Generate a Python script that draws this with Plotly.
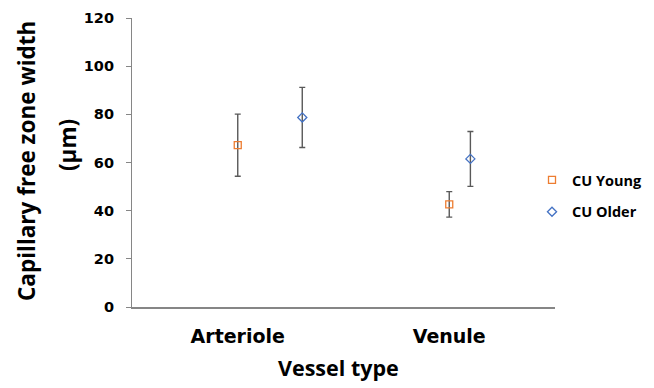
import plotly.graph_objects as go

categories = ["Arteriole", "Venule"]
series_names = ["CU Young", "CU Older"]
young_mean = [67.2, 42.6]
young_err = [12.9, 5.3]
older_mean = [78.7, 61.5]
older_err = [12.5, 11.4]
y_ticks = [0, 20, 40, 60, 80, 100, 120]
x_title = "Vessel type"
y_title_lines = ["Capillary free zone width", "(µm)"]

# horizontal placement of each series within a category (in category units)
young_offset = [0.0, 0.0]
older_offset = [0.305, 0.10]

cat_pos = list(range(len(categories)))
W, H = 654, 388
title_font = "Open Sans, Liberation Sans, sans-serif"
tick_font = "DejaVu Sans, sans-serif"

fig = go.Figure()
fig.add_trace(go.Scatter(
    x=[c + o for c, o in zip(cat_pos, young_offset)], y=young_mean,
    mode="markers", name=series_names[0], legendgroup="a",
    marker=dict(symbol="square-open", size=7, color="#ED7D31", line=dict(width=1.3)),
    error_y=dict(type="data", array=young_err, color="#595959", thickness=1.4, width=3),
))
fig.add_trace(go.Scatter(
    x=[c + o for c, o in zip(cat_pos, older_offset)], y=older_mean,
    mode="markers", name=series_names[1], legendgroup="b",
    marker=dict(symbol="diamond-open", size=7, color="#4472C4", line=dict(width=1.3)),
    error_y=dict(type="data", array=older_err, color="#595959", thickness=1.4, width=3),
))

fig.update_layout(
    width=W, height=H,
    margin=dict(l=0, r=0, t=0, b=0, autoexpand=False),
    paper_bgcolor="white", plot_bgcolor="white",
    font=dict(family=title_font, color="#000000"),
    showlegend=True,
    legend=dict(x=524 / W, y=1 - 188 / H, xanchor="left", yanchor="middle",
                font=dict(size=14.5, family=title_font, color="#000000", weight="bold"),
                tracegroupgap=10, traceorder="grouped", itemwidth=30,
                bgcolor="rgba(0,0,0,0)"),
    xaxis=dict(
        domain=[124 / W, 547 / W],
        range=[-0.5, 1.5], tickmode="array", tickvals=cat_pos,
        ticktext=categories,
        tickfont=dict(size=19, family=tick_font, color="#000000", weight="bold"),
        ticklabelstandoff=11,
        showline=True, linecolor="#868686", linewidth=1.5,
        ticks="", showgrid=False, zeroline=False, automargin=False,
    ),
    yaxis=dict(
        domain=[1 - 299 / H, 1 - 10 / H],
        range=[0, 120], tickmode="array", tickvals=y_ticks,
        ticktext=[str(v) for v in y_ticks],
        tickfont=dict(size=14.5, family=tick_font, color="#000000", weight="bold"),
        ticklabelstandoff=9,
        showline=True, linecolor="#868686", linewidth=1.2,
        ticks="outside", ticklen=5, tickcolor="#868686",
        showgrid=False, zeroline=False, automargin=False,
    ),
    annotations=[
        dict(text=f"<b>{x_title}</b>", xref="paper", yref="paper",
             x=330 / W, y=1 - 359 / H, xanchor="center", yanchor="middle",
             showarrow=False, font=dict(size=21.5, family=title_font, color="#000000")),
        dict(text=f"<b>{y_title_lines[0]}</b>", xref="paper", yref="paper",
             x=19 / W, y=1 - 153 / H, xanchor="center", yanchor="middle", textangle=-90,
             showarrow=False, font=dict(size=22.5, family=title_font, color="#000000")),
        dict(text=f"<b>{y_title_lines[1]}</b>", xref="paper", yref="paper",
             x=59 / W, y=1 - 137 / H, xanchor="center", yanchor="middle", textangle=-90,
             showarrow=False, font=dict(size=22.5, family=title_font, color="#000000")),
    ],
)

fig.write_html("out.html")
